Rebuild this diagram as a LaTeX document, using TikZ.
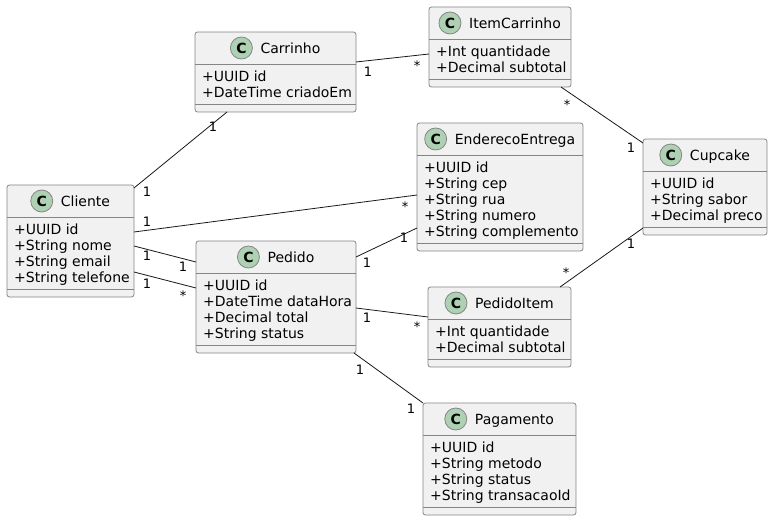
\documentclass[tikz,border=0pt]{standalone}
\usepackage{fontspec}
\setmainfont{DejaVu Sans}
\usetikzlibrary{calc}
\definecolor{classfill}{HTML}{F1F1F1}
\definecolor{classborder}{HTML}{858585}
\definecolor{linkcolor}{HTML}{181818}
\definecolor{iconfill}{HTML}{ADD1B2}
\tikzstyle{classbox} = [rectangle, draw=classborder, fill=classfill, line width=0.8pt, rounded corners=2.5pt, inner sep=0pt, outer sep=0pt, anchor=north west]
\tikzstyle{classline} = [draw=classborder, line width=0.8pt]
\tikzstyle{classname} = [inner sep=0pt, anchor=base, font=\fontsize{14}{16}\selectfont]
\tikzstyle{classattr} = [inner sep=0pt, anchor=base west, font=\fontsize{14}{16}\selectfont]
\tikzstyle{classicon} = [circle, draw=classborder, fill=iconfill, line width=0.8pt, minimum size=22pt, inner sep=0pt, font=\bfseries\fontsize{14}{14}\selectfont]
\tikzstyle{assoc} = [draw=linkcolor, line width=0.8pt]
\tikzstyle{mult} = [inner sep=0pt, anchor=base, font=\fontsize{13}{13}\selectfont]

% name, left, top, width, rows, title, attributes
\newcommand{\umlclass}[7]{%
  \pgfmathsetmacro{\boxh}{48+16*#5}
  \node (#1) [classbox, minimum width=#4pt, minimum height=\boxh pt] at (#2,#3) {};
  \draw[classline] ($(#1.north west)+(0,32)$) -- ($(#1.north east)+(0,32)$);
  \draw[classline] ($(#1.south west)+(0,-8)$) -- ($(#1.south east)+(0,-8)$);
  \node (#1-name) [classname] at ($(#1.north)+(15,21.5)$) {#6};
  \node (#1-icon) [classicon] at ($(#1-name.base west)+(-19,-5.5)$) {C};
  \foreach \a [count=\i] in {#7}
    \node (#1-a\i) [classattr] at ($(#1.north west)+(7,33.5+16*\i)$) {\a};
}

\begin{document}
\begin{tikzpicture}[x=1pt,y=-1pt]
\useasboundingbox (0,0) rectangle (773,521);

% Classes
\umlclass{cliente}{7}{185}{127}{4}{Cliente}{+UUID id,+String nome,+String email,+String telefone}
\umlclass{carrinho}{195}{32}{161}{2}{Carrinho}{+UUID id,+DateTime criadoEm}
\umlclass{itemcarrinho}{429}{7}{142}{2}{ItemCarrinho}{+Int quantidade,+Decimal subtotal}
\umlclass{endereco}{417}{123}{166}{5}{EnderecoEntrega}{+UUID id,+String cep,+String rua,+String numero,+String complemento}
\umlclass{cupcake}{643}{139}{124}{3}{Cupcake}{+UUID id,+String sabor,+Decimal preco}
\umlclass{pedido}{196}{241}{160}{4}{Pedido}{+UUID id,+DateTime dataHora,+Decimal total,+String status}
\umlclass{pedidoitem}{428}{287}{143}{2}{PedidoItem}{+Int quantidade,+Decimal subtotal}
\umlclass{pagamento}{423}{403}{153}{4}{Pagamento}{+UUID id,+String metodo,+String status,+String transacaoId}

% Associations
\draw[assoc] ($(cliente.north east)+(0,3)$) -- ($(carrinho.south west)+(32,0)$)
  node[mult] at (147,197) {1} node[mult] at (213,132) {1};
\draw[assoc] ($(cliente.north east)+(0,47)$) -- ($(endereco.north west)+(0,72)$)
  node[mult] at (147,227) {1} node[mult] at (405,211.5) {*};
\draw[assoc] ($(cliente.north east)+(0,61)$) -- ($(pedido.north west)+(0,21)$)
  node[mult] at (147,261) {1} node[mult] at (183,272) {1};
\draw[assoc] ($(cliente.north east)+(0,87)$) -- ($(pedido.north west)+(0,47)$)
  node[mult] at (147,288) {1} node[mult] at (183,300.5) {*};
\draw[assoc] ($(pedido.north east)+(0,16)$) -- ($(endereco.north west)+(0,105)$)
  node[mult] at (367,268) {1} node[mult] at (404,243) {1};
\draw[assoc] ($(pedido.north east)+(0,67)$) -- ($(pedidoitem.north west)+(0,30)$)
  node[mult] at (367,322) {1} node[mult] at (417,331.5) {*};
\draw[assoc] ($(pedido.south east)+(-2,0)$) -- (pagamento.north west)
  node[mult] at (360,374) {1} node[mult] at (411,413) {1};
\draw[assoc] ($(pedidoitem.north east)+(-11,0)$) -- ($(cupcake.south west)+(0,-7)$)
  node[mult] at (566,277.5) {*} node[mult] at (631,248) {1};
\draw[assoc] ($(carrinho.north east)+(0,30)$) -- ($(itemcarrinho.north west)+(0,47)$)
  node[mult] at (368,77) {1} node[mult] at (417,70.5) {*};
\draw[assoc] ($(itemcarrinho.south east)+(-10,0)$) -- ($(cupcake.north west)+(0,4)$)
  node[mult] at (567,109.5) {*} node[mult] at (631,153) {1};

\end{tikzpicture}
\end{document}
